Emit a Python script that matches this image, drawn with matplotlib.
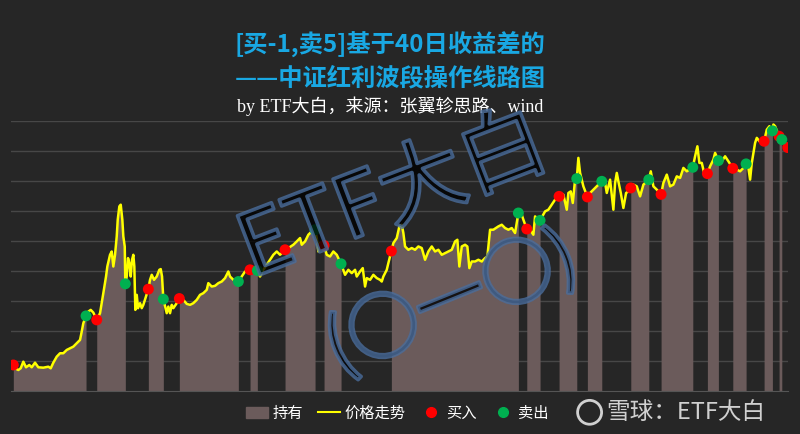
import numpy as np
import matplotlib.pyplot as plt
import matplotlib.patheffects as pe
from matplotlib.lines import Line2D
from matplotlib.patches import Patch, Ellipse

plt.rcParams['font.family'] = ['Noto Sans CJK SC', 'DejaVu Sans']

# time position (arbitrary trading-time units) and index level
t = [13.3, 15, 18.3, 20.7, 23.3, 26, 29.3, 31.7, 35, 38.3, 43.3, 48.3, 50.7, 53.3, 56.7,
     60, 63.3, 66.7, 70, 73.3, 76.7, 80, 81.7, 83.3, 86, 88.3, 90.7, 93.3, 96.7, 100,
     101.7, 103.3, 106, 107.3, 110, 111.7, 113.3, 115, 116.7, 117.7, 119.3, 120.7, 122.3,
     123.3, 124.7, 125.3, 126.7, 128, 129.3, 130.7, 132, 133.3, 134.3, 135.3, 136.7, 138,
     140, 141.7, 143.3, 148.3, 150, 151.7, 154, 156.7, 159.3, 160.7, 162, 163.3, 166.7,
     168.3, 170, 171.7, 173.3, 176.7, 179.3, 183.3, 186.7, 190, 193.3, 196.7, 200, 203.3,
     206.7, 208.3, 211.7, 215, 218.3, 221.7, 225, 228.3, 230, 233.3, 238.3, 241.7, 245,
     250, 257.3, 260, 263.3, 266.7, 270, 273.3, 276.7, 280, 285, 288.3, 293.3, 296.7, 300,
     301.7, 305, 308.3, 311.7, 315, 316.7, 318.3, 320, 324, 326.7, 330, 333.3, 336.7, 341,
     345, 348.3, 351.7, 355, 356.7, 360, 362.7, 365, 366.7, 370, 373.3, 376.7, 380, 381.7,
     383.3, 386.7, 388.3, 391.3, 393.3, 396.7, 399.3, 401.7, 403.3, 405, 408.3, 411.7, 415,
     418.3, 421.7, 425, 428.3, 431.7, 435, 438.3, 441.7, 445, 448.3, 451.7, 455, 457.3,
     459.3, 461.7, 465, 467.3, 469.3, 471.7, 475, 478.3, 481.7, 485, 487.3, 490, 493.3,
     498.3, 501.7, 505, 508.3, 511.7, 515, 518.3, 520, 523.3, 526.7, 530, 533.3, 535, 540,
     545, 548.3, 551.7, 555, 559, 563.3, 566.7, 568.3, 570.7, 572.7, 575, 576.7, 578.3,
     580, 583.3, 587.3, 590, 593.3, 596.7, 601.7, 605, 606.7, 610, 613.3, 615, 616.7,
     618.3, 620.7, 623.3, 626, 628.3, 630.7, 633.3, 636.7, 640, 643.3, 648.7, 650.7, 653.3,
     656.7, 661, 663.3, 666.7, 670, 673.3, 676.7, 680, 683.3, 686.7, 692.7, 695, 697.3,
     699.3, 701.7, 704, 707.3, 710, 713.3, 715, 718.3, 721.7, 725, 728.3, 732.7, 736.7,
     740, 743.3, 746, 748.3, 750, 751.7, 753.3, 755, 756.7, 759.3, 764, 766.7, 769.3,
     772.3, 773.3, 775, 779, 781.7, 785, 787.7]
price = [867, 757, 700, 757, 977, 790, 867, 790, 943, 790, 777, 810, 757, 943, 1143,
         1257, 1257, 1367, 1423, 1477, 1590, 1700, 1977, 2257, 2500, 2643, 2700, 2610, 2367, 2590,
         2923, 3257, 3810, 4143, 4533, 4643, 4143, 4533, 5143, 5700, 6143, 6200, 5700,
         5143, 4810, 3567, 3810, 4423, 4257, 3810, 4367, 4533, 4143, 2700, 3200, 2757,
         2923, 2757, 2867, 3390, 3700, 3867, 3700, 3810, 4033, 4057, 3810, 3057, 2590,
         2810, 2590, 2867, 2757, 2923, 3077, 3033, 2900, 2867, 2923, 3033, 3200, 3257,
         3367, 3590, 3477, 3500, 3590, 3643, 3757, 3977, 3810, 3700, 3643, 3810, 3977,
         4033, 4010, 3810, 4033, 4200, 4367, 4533, 4643, 4533, 4700, 4757, 4867, 4977, 5090,
         4867, 4977, 5200, 5310, 5367, 5090, 4643, 4923, 4843, 4533, 4477, 4643, 4533, 4233,
         3867, 4033, 3923, 4033, 3810, 3977, 4090, 3477, 3757, 3700, 3867, 3757, 3700, 3643,
         3810, 4033, 4257, 4657, 4923, 5090, 5477, 5533, 5257, 4810, 4700, 4757, 4700,
         4810, 4757, 4367, 4643, 4810, 4643, 4700, 4533, 4590, 4643, 4700, 4977, 5033,
         4143, 4810, 4867, 4810, 4090, 4310, 4310, 4367, 4310, 4423, 4477, 5367, 5367,
         5477, 5533, 5423, 5367, 5423, 5257, 5923, 6033, 5700, 5390, 5367, 5200, 5810, 5677,
         5977, 6033, 6200, 6367, 6477, 6533, 6033, 6590, 6643, 6257, 7033, 7067, 7757,
         7257, 6810, 6457, 6590, 6700, 6810, 6977, 6923, 6590, 7033, 6033, 6923, 7257,
         6977, 6590, 6090, 6590, 6643, 6757, 6867, 6810, 6477, 6867, 7033, 7310, 6810,
         6700, 6543, 6923, 7200, 6810, 6867, 7143, 7090, 7423, 7310, 7443, 7810, 8143,
         7590, 7590, 7257, 7233, 7477, 7700, 7923, 7667, 7643, 7810, 7643, 7410, 7367,
         7310, 7423, 7557, 7423, 7033, 7590, 7923, 8257, 8423, 8310, 8310, 8700, 8810,
         8657, 8867, 8810, 8477, 8367, 8257, 8100]

buy_t = [13.3, 96.7, 148.3, 179.3, 250, 285, 324, 391.3, 526.7, 559, 587.3, 630.7,
         661, 707.3, 732.7, 764, 779, 787.7]
sell_t = [86, 125.3, 163.3, 238.3, 257.3, 315, 341, 518.3, 540, 576.7, 601.7, 648.7,
          692.7, 718.3, 746, 772.3, 781.7]

BG = '#262626'
HOLD = '#6b5b5b'

t = np.array(t)
price = np.array(price)


def pos(v):
    return int(np.argmin(np.abs(t - v)))


fig = plt.figure(figsize=(8, 4.34), dpi=100, facecolor=BG)
ax = fig.add_axes([0.0134, 0.099, 0.9721, 0.6233])
ax.set_facecolor(BG)

# holding periods: buy -> next sell, last buy held to the end
for b, s in zip(buy_t, sell_t + [t[-1]]):
    i, j = pos(b), pos(s)
    ax.fill_between(t[i:j + 1], 0, price[i:j + 1], color=HOLD, lw=0, zorder=2)

ax.plot(t, price, color='#ffff00', lw=1.8, zorder=3)

bi = [pos(v) for v in buy_t]
si = [pos(v) for v in sell_t]
ax.scatter(t[bi], price[bi], s=62, color='#ff0000', edgecolors='none', zorder=5)
ax.scatter(t[si], price[si], s=62, color='#00b050', edgecolors='none', zorder=5)

ax.set_xlim(10.7, 788.3)
ax.set_ylim(0, 9000)
ax.set_yticks(range(1000, 9001, 1000))
ax.grid(axis='y', color='#474747', lw=1, zorder=0)
ax.tick_params(length=0, labelleft=False, labelbottom=False)
for side in ['top', 'left', 'right']:
    ax.spines[side].set_visible(False)
ax.spines['bottom'].set_color('#555555')

# titles
fig.text(0.4875, 0.896, '[买-1,卖5]基于40日收益差的', color='#19a8e3', fontsize=17.5,
         fontweight='bold', ha='center', va='center')
fig.text(0.4875, 0.820, '——中证红利波段操作线路图', color='#19a8e3', fontsize=17.5,
         fontweight='bold', ha='center', va='center')
fig.text(0.4875, 0.756, 'by ETF大白，来源：张翼轸思路、wind', color='white', fontsize=13,
         family=['Liberation Serif', 'Noto Sans CJK SC'], ha='center', va='center')

# watermark
stroke = [pe.Stroke(linewidth=2.6, foreground='#4a6d9c', alpha=0.8)]
fig.text(0.492, 0.545, 'ETF大白', fontsize=62, color=(0, 0, 0, 0), rotation=21,
         ha='center', va='center', path_effects=stroke, zorder=6)
fig.text(0.565, 0.30, '(○一○)', fontsize=52, color=(0, 0, 0, 0), rotation=22,
         ha='center', va='center', path_effects=stroke, zorder=6)

# legend
handles = [Patch(color=HOLD),
           Line2D([], [], color='#ffff00', lw=1.5),
           Line2D([], [], ls='none', marker='o', ms=7, color='#ff0000'),
           Line2D([], [], ls='none', marker='o', ms=7, color='#00b050')]
leg = fig.legend(handles, ['持有', '价格走势', '买入', '卖出'], loc='center',
                 bbox_to_anchor=(0.497, 0.048), ncol=4, frameon=False, fontsize=11,
                 handlelength=1.4, handletextpad=0.3, columnspacing=1.0)
for txt in leg.get_texts():
    txt.set_color('white')

# xueqiu mark
fig.patches.append(Ellipse((0.737, 0.05), 0.03, 0.055, transform=fig.transFigure,
                           fill=False, ec='#d0d0d0', lw=2))
fig.text(0.758, 0.05, '雪球：ETF大白', color='#d0d0d0', fontsize=17,
         ha='left', va='center')

fig.savefig('out.png', dpi=100, facecolor=BG)
